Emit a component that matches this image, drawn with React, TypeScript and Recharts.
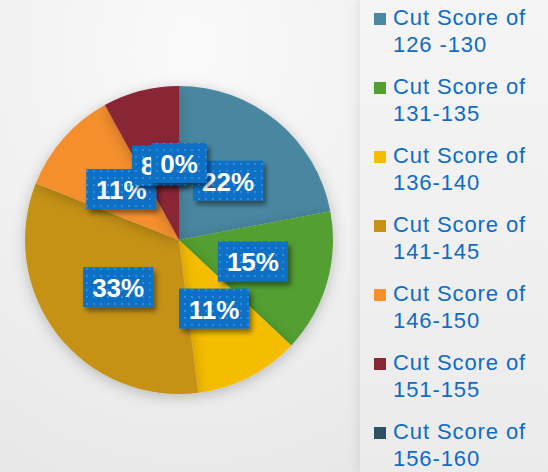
import { PieChart, Pie, Cell, Legend } from 'recharts'

// share of candidates per cut score band
const bands = [
  'Cut Score of 126 -130',
  'Cut Score of 131-135',
  'Cut Score of 136-140',
  'Cut Score of 141-145',
  'Cut Score of 146-150',
  'Cut Score of 151-155',
  'Cut Score of 156-160',
]
const shares = [22, 15, 11, 33, 11, 8, 0]
const colors = ['#4a87a0', '#529f32', '#f5bd00', '#c59214', '#f58f2f', '#892634', '#2d5063']

const data = bands.map((name, i) => ({ name, value: shares[i] }))

const RAD = Math.PI / 180
const FS = 26

// rough Arial bold advance widths, to size the label boxes
const textWidth = (s: string) =>
  s.split('').reduce((w, c) => w + (c === '%' ? 0.889 : 0.556), 0) * FS

const renderLabel = (props: any) => {
  const { cx, cy, midAngle, outerRadius, percent, index } = props
  const r = outerRadius * 0.5
  const x = cx + r * Math.cos(-midAngle * RAD)
  const y = cy + r * Math.sin(-midAngle * RAD)
  const txt = Math.round(percent * 100) + '%'
  const w = textWidth(txt) + 18
  return (
    <g key={'lbl-' + index}>
      <rect x={x - w / 2} y={y - 20} width={w} height={40} fill="url(#dots)" filter="url(#boxShadow)" />
      <text
        x={x}
        y={y + 1}
        textAnchor="middle"
        dominantBaseline="central"
        fill="#ffffff"
        fontFamily="'Liberation Sans', Arial, sans-serif"
        fontWeight="bold"
        fontSize={FS}
      >
        {txt}
      </text>
    </g>
  )
}

const LegendList = (props: any) => {
  const { payload } = props
  return (
    <div style={{ fontFamily: "'Liberation Sans', Arial, sans-serif" }}>
      {payload.map((p: any, i: number) => {
        const words = String(p.value).split(' ')
        const first = words.slice(0, 3).join(' ')
        const second = words.slice(3).join(' ')
        return (
          <div key={i} style={{ position: 'relative', height: 54, marginBottom: 15, paddingLeft: 19 }}>
            <div style={{ position: 'absolute', left: 0, top: 9, width: 12, height: 12, background: p.color }} />
            <div style={{ color: '#0f6cc4', fontSize: 22, lineHeight: '27px', letterSpacing: 0.9 }}>
              {first}
              <br />
              {second}
            </div>
          </div>
        )
      })}
    </div>
  )
}

export default function App() {
  return (
    <div style={{ position: 'relative', width: 548, height: 472 }}>
      <style>{'body{margin:0}'}</style>
      <svg width={0} height={0} style={{ position: 'absolute' }}>
        <defs>
          <pattern id="dots" width={7} height={7} patternUnits="userSpaceOnUse">
            <rect width={7} height={7} fill="#0a6fc4" />
            <rect x={2} y={2} width={2} height={2} fill="#2f8ce0" />
          </pattern>
          <filter id="boxShadow" x="-20%" y="-20%" width="150%" height="160%">
            <feDropShadow dx={3} dy={4} stdDeviation={2.5} floodColor="#000" floodOpacity={0.45} />
          </filter>
          <filter id="pieShadow" x="-20%" y="-20%" width="140%" height="140%">
            <feDropShadow dx={0} dy={3} stdDeviation={7} floodColor="#000" floodOpacity={0.22} />
          </filter>
        </defs>
      </svg>
      <div
        style={{
          position: 'absolute',
          inset: 0,
          background: 'radial-gradient(ellipse at 35% 10%, #fafafa 0%, #f0f0f0 45%, #e2e2e2 100%)',
        }}
      />
      <div
        style={{
          position: 'absolute',
          left: 360,
          top: 0,
          width: 188,
          height: 472,
          background: 'linear-gradient(180deg, #f5f5f5 0%, #ebebeb 100%)',
          boxShadow: '-4px 0 8px rgba(0,0,0,0.06)',
        }}
      />
      <PieChart width={548} height={472} margin={{ top: 0, right: 0, bottom: 0, left: 0 }} style={{ position: 'absolute', left: 0, top: 0 }}>
        <Pie
          data={data}
          dataKey="value"
          nameKey="name"
          cx={179}
          cy={240}
          outerRadius={154}
          startAngle={90}
          endAngle={-270}
          stroke="none"
          labelLine={false}
          label={renderLabel}
          isAnimationActive={false}
          style={{ filter: 'url(#pieShadow)' }}
        >
          {data.map((d, i) => (
            <Cell key={d.name} fill={colors[i]} />
          ))}
        </Pie>
        <Legend
          layout="vertical"
          align="right"
          verticalAlign="top"
          content={<LegendList />}
          wrapperStyle={{ left: 374, top: 4, width: 174 }}
        />
      </PieChart>
    </div>
  )
}
